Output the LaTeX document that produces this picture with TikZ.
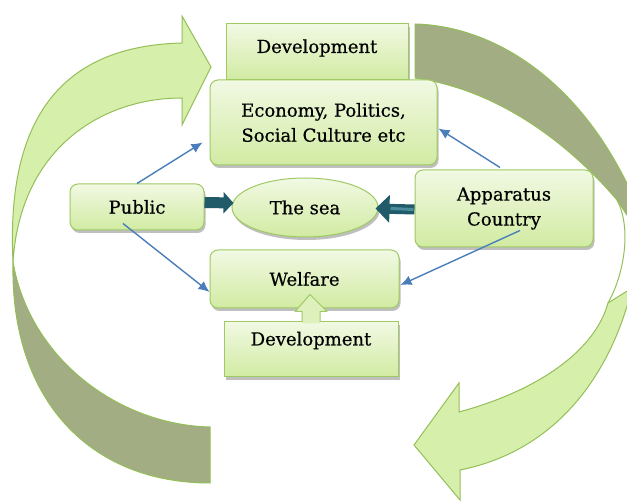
\documentclass[tikz,border=0pt]{standalone}
\usepackage{fontspec}
\setmainfont{DejaVu Serif}[FakeBold=0.5]
\usetikzlibrary{arrows.meta,shapes.geometric,shadows,calc}
\definecolor{boxtop}{HTML}{F1F9E3}
\definecolor{boxbot}{HTML}{D1EBA2}
\definecolor{boxline}{HTML}{9FC963}
\definecolor{ribbonlight}{HTML}{D6EFAB}
\definecolor{ribbondark}{HTML}{A3AD84}
\definecolor{ribbonline}{HTML}{94BF58}
\definecolor{tealdark}{HTML}{215B6A}
\definecolor{teallight}{HTML}{4A8B9C}
\definecolor{bluearrow}{HTML}{4A7EBB}
\begin{document}
\begin{tikzpicture}[x=1pt,y=-1pt,
  font=\fontsize{18}{25}\selectfont,
  box/.style={draw=boxline, line width=1pt, top color=boxtop, bottom color=boxbot,
    inner sep=0pt, align=center,
    drop shadow={shadow xshift=1.5pt, shadow yshift=-3pt, opacity=0.25, fill=black}},
  rbox/.style={box, rounded corners=8pt},
  lightribbon/.style={fill=ribbonlight, draw=ribbonline, line width=1pt},
  darkribbon/.style={fill=ribbondark, draw=ribbonline, line width=1pt},
  bluearr/.style={draw=bluearrow, line width=1.4pt, -{Latex[length=11pt,width=10pt]}},
  tealarr/.style={draw=tealdark, line width=10pt}
]
\useasboundingbox (0,0) rectangle (627,502);

% big circular ribbons
\begin{scope}
\clip (0,0) rectangle (627,502);
% left ribbon, light front face
\filldraw[lightribbon] (13,262) .. controls (6,120) and (60,46) .. (182,43)
  -- (182,16) -- (211,67) -- (182,125) -- (182,98)
  .. controls (100,98) and (20,150) .. (13,262) -- cycle;
% left ribbon, dark back face
\filldraw[darkribbon] (13,262) .. controls (10,400) and (90,483) .. (210,483)
  -- (210,427) .. controls (120,425) and (30,360) .. (13,262) -- cycle;
% right ribbon, dark back face
\filldraw[darkribbon] (415,24) .. controls (500,26) and (600,90) .. (650,240)
  -- (650,250) -- (617,200) .. controls (570,145) and (500,90) .. (415,78) -- cycle;
% right ribbon, twisting edge
\draw[ribbonline, line width=1pt] (617,200) .. controls (632,228) and (624,275) .. (608,303);
% right ribbon, light front face
\filldraw[lightribbon] (608,303) -- (632,288) .. controls (612,370) and (560,450) .. (460,470)
  -- (460,500) -- (414,445) -- (459,383) -- (459,412)
  .. controls (540,390) and (595,350) .. (608,303) -- cycle;
\end{scope}

% boxes
\node[box, minimum width=182, minimum height=56,
  label={[name=dev1text, yshift=4pt]center:Development}] (dev1) at (317,52) {};
\node[rbox, minimum width=227, minimum height=85] (econ) at (323.5,122.5)
  {Economy, Politics,\\ Social Culture etc};
\node[rbox, minimum width=134, minimum height=46] (pub) at (137,207) {Public};
\node[box, ellipse, minimum width=146, minimum height=59] (sea) at (305,207.5) {The sea};
\node[rbox, minimum width=178, minimum height=77] (app) at (504,208.5) {Apparatus\\ Country};
\node[rbox, minimum width=189, minimum height=58] (wel) at (304.5,279) {Welfare};
\node[box, minimum width=174, minimum height=55,
  label={[name=dev2text, yshift=9pt]center:Development}] (dev2) at (311,349.5) {};

% block arrow from lower Development up to Welfare
\fill[boxbot!60!boxtop] ($(dev2.north)+(-9,2)$) -- ($(dev2.north)+(-9,-10)$)
  -- ($(dev2.north)+(-16,-10)$) -- ($(dev2.north)+(-1,-27)$)
  -- ($(dev2.north)+(16,-10)$) -- ($(dev2.north)+(9,-10)$)
  -- ($(dev2.north)+(9,2)$) -- cycle;
\draw[boxline, line width=1pt, line join=round] ($(dev2.north)+(-9,0.5)$) -- ($(dev2.north)+(-9,-10)$)
  -- ($(dev2.north)+(-16,-10)$) -- ($(dev2.north)+(-1,-27)$)
  -- ($(dev2.north)+(16,-10)$) -- ($(dev2.north)+(9,-10)$)
  -- ($(dev2.north)+(9,0.5)$);

% thick teal arrows towards the sea
\draw[tealarr, line width=11pt, -{Triangle[length=10pt,width=21pt]}]
  ([yshift=4.5pt]pub.east) -- ([yshift=4.5pt, xshift=2pt]sea.west);
\draw[tealarr, -{Triangle[length=14pt,width=27pt]}]
  ([yshift=-1pt]app.west) -- ([yshift=-1pt, xshift=-3pt]sea.east);
\draw[teallight, line width=3pt]
  ([yshift=-1pt, xshift=-1pt]app.west) -- ([yshift=-1pt, xshift=12pt]sea.east);

% thin blue arrows
\draw[bluearr] (pub.north) -- ([xshift=-7pt, yshift=23pt]econ.south west);
\draw[bluearr] ([xshift=-4pt, yshift=2pt]app.north) -- ([xshift=1pt, yshift=37pt]econ.south east);
\draw[bluearr] ([xshift=-14pt, yshift=7pt]pub.south) -- ([yshift=-13pt]wel.west);
\draw[bluearr] ([xshift=16pt, yshift=17pt]app.south) -- ([xshift=1pt, yshift=-6pt]wel.east);
\end{tikzpicture}
\end{document}
